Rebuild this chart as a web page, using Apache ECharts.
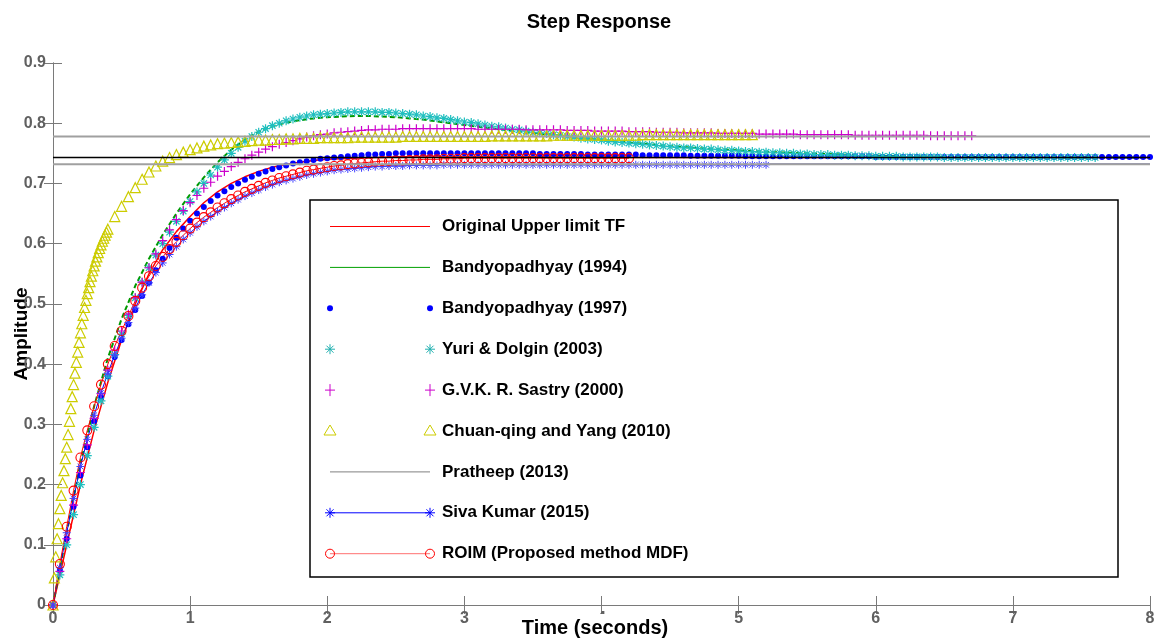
<!DOCTYPE html>
<html>
<head>
<meta charset="utf-8">
<script src="https://cdn.jsdelivr.net/npm/echarts@6/dist/echarts.min.js"></script>
<style>
html,body{margin:0;padding:0;background:#fff;}
#chart{width:1168px;height:644px;}
</style>
</head>
<body>
<div id="chart"></div>
<script>
// ---------- sampling grids (seconds) ----------
function steps(a, b, h) { const out = []; const n = Math.round((b - a) / h); for (let i = 0; i <= n; i++) out.push(+(a + i * h).toFixed(2)); return out; }
const tMark = steps(0, 8, 0.05);                                  // marker series grid
const tLine = steps(0, 3, 0.1).concat(steps(3.25, 8, 0.25));      // plain line series grid
const tTri  = steps(0, 0.4, 0.01).concat(steps(0.45, 5.1, 0.05)); // Chuan-qing grid

// ---------- names ----------
const seriesNames = [
  'Original Upper limit TF', 'Bandyopadhyay (1994)', 'Bandyopadhyay (1997)',
  'Yuri & Dolgin (2003)', 'G.V.K. R. Sastry (2000)', 'Chuan-qing and Yang (2010)',
  'Pratheep (2013)', 'Siva Kumar (2015)', 'ROIM (Proposed method MDF)'
];
const xName = 'Time (seconds)';
const yName = 'Amplitude';
const chartTitle = 'Step Response';

// ---------- amplitudes ----------
const originalTF = [0,.10,.20,.29,.37,.44,.50,.55,.59,.62,.645,.668,.686,.70,.711,.72,.727,.732,.735,.738,.74,.741,.742,.743,.743,.744,.744,.744,.744,.744,.744,
  .744,.744,.743,.743,.743,.743,.743,.743,.743,.743,.743,.743,.743,.743,.743,.743,.743,.743,.743,.743];
const bandy1994 = [0,.12,.235,.33,.41,.475,.53,.575,.615,.65,.682,.71,.735,.756,.773,.786,.795,.801,.805,.808,.81,.811,.812,.812,.811,.81,.808,.806,.803,.80,.797,
  .79,.784,.778,.772,.767,.762,.758,.755,.752,.75,.748,.746,.745,.744,.744,.743,.743,.743,.743,.743];
const bandy1997 = [0,.058,.11,.163,.215,.262,.305,.344,.38,.412,.44,.466,.49,.513,.535,.556,.575,.593,.61,.625,.638,.65,.661,.671,.68,.687,.694,.70,.706,.711,.716,.72,.724,.727,.73,.733,.735,.737,.739,.741,.742,.743,.744,.745,.746,.747,.748,.748,.749,.749,.75,
  .75,.75,.75,.75,.75,.75,.75,.75,.75,.75,.75,.75,.75,.75,.75,.75,.75,.75,.75,.75,
  .749,.749,.749,.749,.749,.749,.749,.748,.748,.748,
  .748,.748,.748,.748,.748,.747,.747,.747,.747,.747,
  .747,.747,.746,.746,.746,.746,.746,.746,.746,.746,
  .745,.745,.745,.745,.745,.745,.745,.745,.745,.745,.745,.745,.745,.745,.745,.745,.745,.745,.745,.744,
  .744,.744,.744,.744,.744,.744,.744,.744,.744,.744,.744,.744,.744,.744,.744,.744,.744,.744,.744,.744,
  .744,.744,.744,.744,.744,.744,.744,.744,.744,.744,.744,.744,.744,.744,.744,.744,.744,.744,.744,.744];
const yuri2003 = [0,.05,.10,.15,.20,.248,.295,.339,.38,.416,.45,.481,.51,.536,.56,.581,.60,.619,.637,.654,.67,.686,.70,.714,.727,.739,.75,.76,.77,.778,.785,.791,.796,.80,.804,.807,.81,.812,.814,.815,.816,.817,.818,.819,.819,.819,.819,.819,.818,.818,.817,
  .816,.815,.814,.812,.811,.809,.808,.806,.804,.802,
  .801,.799,.797,.795,.794,.792,.79,.789,.787,.785,
  .784,.783,.781,.78,.778,.777,.775,.774,.773,.772,
  .77,.769,.768,.767,.766,.765,.764,.763,.762,.761,
  .76,.759,.759,.758,.757,.757,.756,.755,.755,.754,
  .753,.753,.752,.752,.751,.751,.75,.75,.749,.749,
  .748,.748,.748,.747,.747,.747,.746,.746,.746,.745,
  .745,.745,.745,.744,.744,.744,.744,.744,.744,.743,
  .743,.743,.743,.743,.743,.743,.743,.743,.743,.743,.743,.743,.743,.743,.743,.743,.743,.743,.743,.743,.743,.743];
const sastry2000 = [0,.056,.11,.166,.22,.266,.31,.351,.39,.423,.455,.483,.51,.536,.56,.583,.605,.623,.64,.655,.668,.68,.692,.702,.712,.72,.728,.735,.741,.747,.752,.757,.761,.765,.768,.771,.774,.777,.779,.781,.782,.784,.785,.786,.787,.788,.789,.789,.79,.79,.79,
  .791,.791,.791,.791,.791,.791,.791,.791,.791,.791,
  .791,.79,.79,.79,.79,.79,.79,.79,.789,.789,
  .789,.789,.789,.789,.788,.788,.788,.788,.787,.787,
  .787,.787,.787,.786,.786,.786,.786,.785,.785,.785,
  .785,.784,.784,.784,.784,.784,.783,.783,.783,.783,
  .783,.783,.782,.782,.782,.782,.782,.782,.781,.781,
  .781,.781,.781,.781,.781,.781,.78,.78,.78,.78,
  .78,.78,.78,.78,.78,.78,.78,.779,.779,.779,.779,.779,.779,.779];
const chuanYang2010 = [0,.045,.08,.11,.135,.16,.182,.203,.223,.243,.262,.283,.305,.326,.346,.366,.385,.403,.42,.436,.452,.467,.481,.494,.506,.517,.527,.537,.546,.555,.563,.571,.578,.585,.592,.598,.604,.609,.614,.619,.624,
  .645,.662,.678,.693,.707,.719,.729,.737,.743,.748,.752,.756,.759,.762,.764,.766,.767,.768,.769,.77,.771,.772,.772,.773,.773,.774,.774,.775,.775,.775,.776,.776,
  .776,.776,.776,.777,.777,.777,.777,.777,.777,.777,
  .778,.778,.778,.778,.778,.778,.778,.778,.778,.778,
  .778,.778,.778,.779,.779,.779,.779,.779,.779,.779,
  .779,.779,.78,.78,.78,.78,.78,.78,.78,.78,
  .78,.78,.78,.78,.78,.781,.781,.781,.781,.781,
  .781,.781,.781,.781,.781,.781,.781,.781,.781,.781,.781,.781];
const sivaKumar2015 = [0,.062,.12,.177,.23,.275,.315,.352,.385,.415,.443,.469,.493,.515,.535,.552,.568,.582,.595,.607,.618,.628,.637,.645,.653,.66,.667,.673,.679,.684,.689,.694,.698,.702,.705,.708,.711,.714,.716,.718,.72,.722,.723,.724,.725,.726,.727,.728,.728,.729,.729,
  .729,.73,.73,.73,.73,.73,.731,.731,.731,.731,
  .731,.731,.731,.731,.731,.731,.731,.731,.731,.731,.731,.731,.731,.731,.731,.731,.731,.731,.731,.731,.731,.731,
  .731,.731,.731,.731,.731,.731,.731,.731,.731,.731,.731,.731,.731,.731,.731,.731,.731,.731,.731,.731,.731,.731];
const sivaTailT = [5.2, 8];
const sivaTail = [.732, .732];
const roim = [0,.068,.13,.19,.245,.29,.33,.366,.40,.43,.455,.48,.505,.527,.546,.563,.578,.591,.603,.614,.625,.635,.644,.652,.66,.667,.674,.68,.686,.691,.696,.701,.705,.709,.712,.715,.718,.721,.723,.725,.727,.729,.73,.732,.733,.734,.735,.736,.737,.737,.738,
  .738,.739,.739,.74,.74,.74,.741,.741,.741,.742,
  .742,.742,.742,.742,.742,.742,.742,.742,.742,.742,.742,.742,
  .742,.742,.742,.742,.742,.742,.742,.742,.742,.742,.742,.742];
// horizontal steady-state lines spanning the axis
const steadyLevels = [0.778, 0.743, 0.732];
const steadyColors = ['#a0a0a0', '#000000', '#a0a0a0'];

// ---------- axis ticks ----------
const xTicks = { min: 0, max: 8, step: 1 };
const yTicks = { min: 0, max: 0.9, step: 0.1 };

function pairs(t, v) { return v.map((y, i) => [t[i], y]); }

const FONT = '"Liberation Sans", Arial, sans-serif';
const AX = '#7a7a7a';
const starPath = 'path://M0,5L10,5M5,0L5,10M1.5,1.5L8.5,8.5M1.5,8.5L8.5,1.5';
const plusPath = 'path://M0,5L10,5M5,0L5,10';

const noLine = { opacity: 0 };
const base = { type: 'line', animation: false, silent: true, showAllSymbol: true, emphasis: { disabled: true } };

const series = [
  Object.assign({}, base, { name: seriesNames[0], data: pairs(tLine, originalTF), symbol: 'none', lineStyle: { color: '#ff0000', width: 1.5 }, itemStyle: { color: '#ff0000' } }),
  Object.assign({}, base, { name: seriesNames[1], data: pairs(tLine, bandy1994), symbol: 'none', lineStyle: { color: '#009900', width: 2, type: [5, 3] }, itemStyle: { color: '#009900' } }),
  Object.assign({}, base, { name: seriesNames[2], data: pairs(tMark, bandy1997), symbol: 'circle', symbolSize: 6, lineStyle: noLine, itemStyle: { color: '#0000ff' } }),
  Object.assign({}, base, { name: seriesNames[3], data: pairs(tMark, yuri2003), symbol: starPath, symbolSize: 9, lineStyle: noLine, itemStyle: { color: '#20bfbf', borderColor: '#20bfbf', borderWidth: 1.2 } }),
  Object.assign({}, base, { name: seriesNames[4], data: pairs(tMark, sastry2000), symbol: plusPath, symbolSize: 9, lineStyle: noLine, itemStyle: { color: '#cc00cc', borderColor: '#cc00cc', borderWidth: 1.2 } }),
  Object.assign({}, base, { name: seriesNames[5], data: pairs(tTri, chuanYang2010), symbol: 'triangle', symbolSize: 10, lineStyle: noLine, itemStyle: { color: 'rgba(0,0,0,0)', borderColor: '#cccc00', borderWidth: 1.2 } }),
  Object.assign({}, base, { name: seriesNames[7], data: pairs(tMark, sivaKumar2015), symbol: starPath, symbolSize: 8, lineStyle: { color: '#0000ff', width: 1 }, itemStyle: { color: '#4040ff', borderColor: '#4040ff', borderWidth: 1 } }),
  Object.assign({}, base, { name: 'sivaTail', data: pairs(sivaTailT, sivaTail), symbol: 'none', lineStyle: { color: '#3030a0', width: 1.5 } }),
  Object.assign({}, base, { name: seriesNames[8], data: pairs(tMark, roim), symbol: 'circle', symbolSize: 9, lineStyle: { color: '#ff0000', width: 1 }, itemStyle: { color: 'rgba(0,0,0,0)', borderColor: '#ff0000', borderWidth: 1.1 } })
];
steadyLevels.forEach((lv, i) => {
  series.push(Object.assign({}, base, { name: i === 1 ? seriesNames[6] : 'steady' + i, data: [[xTicks.min, lv], [xTicks.max, lv]], symbol: 'none', z: 5,
    lineStyle: { color: steadyColors[i], width: i === 1 ? 1.5 : 2 } }));
});

// ---------- MATLAB-like legend drawn with graphic ----------
const legendStyle = [
  { line: '#ff0000' }, { line: '#00a000' }, { sym: 'dot', color: '#0000ff' }, { sym: 'star', color: '#20b0b0' },
  { sym: 'plus', color: '#cc00cc' }, { sym: 'tri', color: '#cccc00' }, { line: '#808080' },
  { line: '#0000ff', sym: 'star', color: '#0000ff' }, { line: '#ff7070', sym: 'ring', color: '#ff0000' }
];
function sym(kind, color, cx, cy) {
  const ln = (a, b, c, d) => ({ type: 'line', shape: { x1: cx + a, y1: cy + b, x2: cx + c, y2: cy + d }, style: { stroke: color, lineWidth: 1 } });
  if (kind === 'dot') return [{ type: 'circle', shape: { cx, cy, r: 3 }, style: { fill: color } }];
  if (kind === 'star') return [ln(-5, 0, 5, 0), ln(0, -5, 0, 5), ln(-3.5, -3.5, 3.5, 3.5), ln(-3.5, 3.5, 3.5, -3.5)];
  if (kind === 'plus') return [ln(-5, 0, 5, 0), ln(0, -6, 0, 6)];
  if (kind === 'tri') return [{ type: 'polygon', shape: { points: [[cx, cy - 6], [cx - 6, cy + 4], [cx + 6, cy + 4]] }, style: { fill: 'none', stroke: color, lineWidth: 1 } }];
  if (kind === 'ring') return [{ type: 'circle', shape: { cx, cy, r: 4.5 }, style: { fill: 'none', stroke: color, lineWidth: 1 } }];
  return [];
}
const legendChildren = [{ type: 'rect', shape: { x: 310, y: 200, width: 808, height: 377 }, style: { fill: '#fff', stroke: '#000', lineWidth: 1.5 } }];
seriesNames.forEach((name, i) => {
  const cy = 226.5 + i * 40.9, st = legendStyle[i];
  if (st.line) legendChildren.push({ type: 'line', shape: { x1: 330, y1: cy, x2: 430, y2: cy }, style: { stroke: st.line, lineWidth: 1 } });
  if (st.sym) { legendChildren.push(...sym(st.sym, st.color, 330, cy)); legendChildren.push(...sym(st.sym, st.color, 430, cy)); }
  legendChildren.push({ type: 'text', style: { text: name, x: 442, y: cy, font: 'bold 17px ' + FONT, fill: '#000', verticalAlign: 'middle', align: 'left' } });
});

const axisCommon = {
  axisLine: { show: true, lineStyle: { color: AX, width: 1 } },
  axisTick: { show: true, inside: true, length: 9, lineStyle: { color: AX } },
  splitLine: { show: false }
};
const labelStyle = { color: '#606060', fontFamily: FONT, fontWeight: 'bold', fontSize: 16 };

const chart = echarts.init(document.getElementById('chart'), null, { renderer: 'canvas' });
chart.setOption({
  animation: false,
  backgroundColor: '#fff',
  title: { text: chartTitle, left: 594, top: 7, textAlign: 'center', textStyle: { fontFamily: FONT, fontWeight: 'bold', fontSize: 20, color: '#000' } },
  grid: { left: 53, right: 18, top: 63, bottom: 39, containLabel: false, outerBoundsMode: 'none' },
  xAxis: [
    Object.assign({ type: 'value', min: xTicks.min, max: xTicks.max, interval: xTicks.step, position: 'bottom',
      axisLabel: Object.assign({ margin: 6 }, labelStyle) }, axisCommon),
    Object.assign({ type: 'value', min: xTicks.min, max: xTicks.max, interval: xTicks.step, position: 'top', axisLabel: { show: false } }, axisCommon)
  ],
  yAxis: [
    Object.assign({ type: 'value', min: yTicks.min, max: yTicks.max, interval: yTicks.step, position: 'left',
      name: yName, nameLocation: 'middle', nameGap: 22, nameRotate: 90, nameMoveOverlap: false,
      nameTextStyle: { fontFamily: FONT, fontWeight: 'bold', fontSize: 19, color: '#000' },
      axisLabel: Object.assign({ margin: 7, formatter: v => (Math.round(v * 10) / 10).toString() }, labelStyle) }, axisCommon),
    Object.assign({ type: 'value', min: yTicks.min, max: yTicks.max, interval: yTicks.step, position: 'right', axisLabel: { show: false } }, axisCommon)
  ],
  series: series,
  graphic: [
    { type: 'group', z: 100, silent: true, children: legendChildren },
    { type: 'text', z: 100, silent: true, style: { text: xName, x: 595, y: 628, align: 'center', verticalAlign: 'middle',
      font: 'bold 20px ' + FONT, fill: '#000', backgroundColor: '#fff', padding: [6, 3, 2, 3] } }
  ]
});
</script>
</body>
</html>
